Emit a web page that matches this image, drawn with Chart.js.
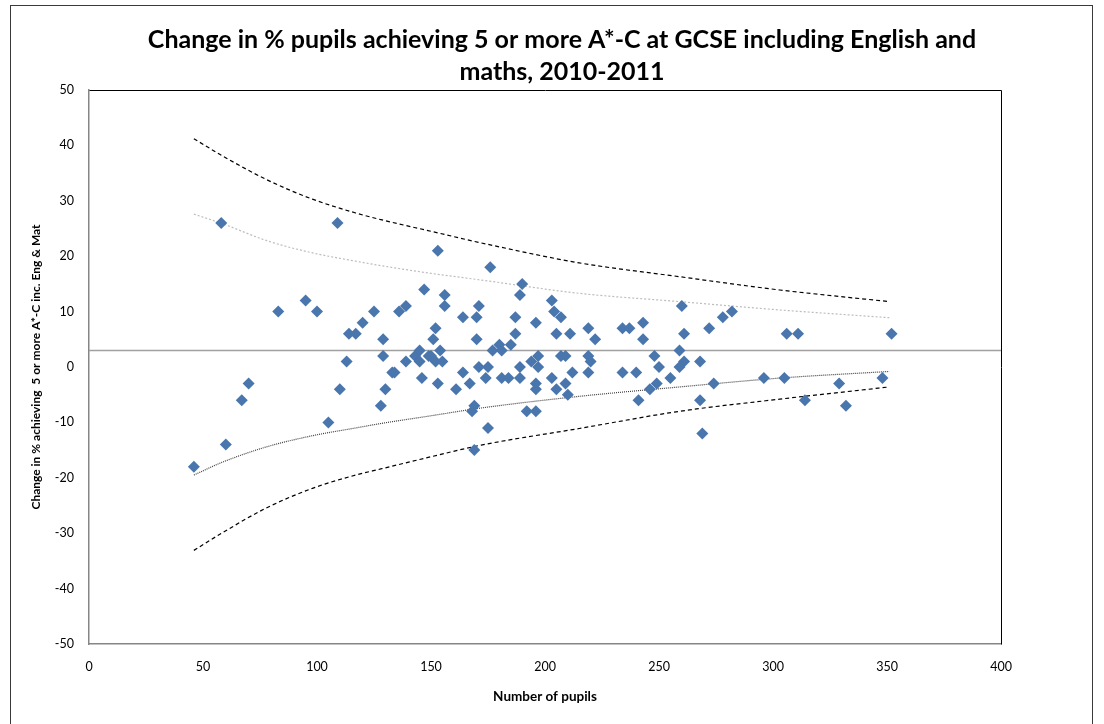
<!DOCTYPE html>
<html>
<head>
<meta charset="utf-8">
<script src="https://cdn.jsdelivr.net/npm/chart.js@4/dist/chart.umd.min.js"></script>
<style>
  html, body { margin: 0; padding: 0; background: #ffffff; }
  #wrap { position: relative; width: 1104px; height: 724px; }
  canvas { display: block; }
</style>
</head>
<body>
<div id="wrap"><canvas id="funnel" width="1104" height="724"></canvas></div>
<script>
// School cohort size and change in % achieving 5+ A*-C (inc. English & maths)
const pupils = [
  46,58,60,67,70,83,95,100,105,109,
  110,113,114,117,120,125,128,129,129,130,
  133,134,136,139,139,143,145,145,146,147,
  149,150,152,154,155,151,152,153,153,156,
  156,161,164,164,167,168,169,169,170,170,
  171,171,174,175,175,176,177,180,181,181,
  184,185,187,187,189,189,189,190,192,194,
  196,196,196,196,197,197,203,203,204,205,
  205,207,207,209,209,210,211,212,219,219,
  219,220,222,234,234,237,240,241,243,243,
  246,248,249,250,255,259,259,260,261,261,
  268,268,269,272,274,278,282,296,305,306,
  311,314,329,332,348,352
];
const change = [
  -18,26,-14,-6,-3,10,12,10,-10,26,
  -4,1,6,6,8,10,-7,5,2,-4,
  -1,-1,10,11,1,2,3,1,-2,14,
  2,2,1,3,1,5,7,21,-3,13,
  11,-4,9,-1,-3,-8,-7,-15,5,9,
  11,0,-2,0,-11,18,3,4,3,-2,
  -2,4,6,9,0,-2,13,15,-8,1,
  8,-3,-4,-8,2,0,12,-2,10,6,
  -4,9,2,2,-3,-5,6,-1,7,2,
  -1,1,5,7,-1,7,-1,-6,8,5,
  -4,2,-3,0,-2,3,0,11,6,1,
  1,-6,-12,7,-3,9,10,-2,-2,6,
  6,-6,-3,-7,-2,6
];

// Funnel control limits around the mean change
const limitPupils = [46, 59, 78, 98, 117, 128, 150, 172, 215, 259, 303, 351];
const upper998 = [41.2, 38.0, 33.8, 30.3, 27.8, 26.6, 24.5, 22.4, 18.8, 16.3, 13.9, 11.8];
const upper95  = [27.6, 25.8, 22.8, 20.6, 19.1, 18.3, 16.9, 15.7, 13.3, 11.8, 10.3, 8.9];
const lower95  = [-19.5, -17.1, -14.4, -12.4, -11.0, -10.2, -8.8, -7.4, -5.3, -3.6, -2.0, -0.8];
const lower998 = [-33.1, -29.8, -25.4, -21.9, -19.5, -18.4, -16.2, -14.1, -11.1, -8.0, -5.8, -3.6];
const meanChange = 3;
const meanSpan = [0, 400];

const xTicks = [0, 50, 100, 150, 200, 250, 300, 350, 400];
const yTicks = [-50, -40, -30, -20, -10, 0, 10, 20, 30, 40, 50];

const titleLines = [
  'Change in % pupils achieving 5 or more A*-C at GCSE including English and',
  'maths, 2010-2011'
];
const xTitle = 'Number of pupils';
const yTitle = 'Change in % achieving  5 or more A*-C inc. Eng & Mat';

const FONT = 'Lato, "Open Sans", "DejaVu Sans", sans-serif';

const toPoints = (xs, ys) => xs.map((x, i) => ({ x: x, y: ys[i] }));

function limitLine(values, color, dash, width) {
  return {
    type: 'line',
    data: toPoints(limitPupils, values),
    borderColor: color,
    borderWidth: width,
    borderDash: dash,
    pointRadius: 0,
    fill: false,
    tension: 0.4,
    cubicInterpolationMode: 'monotone',
    order: 2
  };
}

// Black frame on the top/right of the plot area and an outer chart border
const framePlugin = {
  id: 'frame',
  beforeDatasetsDraw(chart) {
    const { ctx, chartArea: a } = chart;
    ctx.save();
    ctx.strokeStyle = '#000000';
    ctx.lineWidth = 1;
    ctx.beginPath();
    ctx.moveTo(Math.round(a.left) + 0.5, Math.round(a.top) + 0.5);
    ctx.lineTo(Math.round(a.right) + 0.5, Math.round(a.top) + 0.5);
    ctx.lineTo(Math.round(a.right) + 0.5, Math.round(a.bottom) + 0.5);
    ctx.stroke();
    ctx.restore();
  },
  afterDraw(chart) {
    const { ctx } = chart;
    ctx.save();
    ctx.strokeStyle = '#3a3a3a';
    ctx.lineWidth = 1;
    ctx.strokeRect(10.5, 5.5, 1082, 740);
    ctx.restore();
  }
};

new Chart(document.getElementById('funnel'), {
  data: {
    datasets: [
      {
        type: 'scatter',
        label: 'Schools',
        data: toPoints(pupils, change),
        pointStyle: 'rectRot',
        pointRadius: 6,
        pointHoverRadius: 6,
        backgroundColor: '#4a76ae',
        borderColor: '#4a76ae',
        borderWidth: 0,
        order: 0
      },
      {
        type: 'line',
        label: 'Mean',
        data: meanSpan.map(x => ({ x: x, y: meanChange })),
        borderColor: '#a0a0a0',
        borderWidth: 1.5,
        pointRadius: 0,
        fill: false,
        order: 3
      },
      limitLine(upper998, '#000000', [4, 3], 1.2),
      limitLine(upper95, '#bdbdbd', [2, 2], 1.2),
      limitLine(lower95, '#404040', [1, 1], 1.2),
      limitLine(lower998, '#000000', [4, 3], 1.2)
    ]
  },
  options: {
    responsive: false,
    animation: false,
    devicePixelRatio: 1,
    layout: { padding: { left: 20, right: 0, top: 0, bottom: 0 } },
    plugins: {
      legend: { display: false },
      tooltip: { enabled: false },
      title: {
        display: true,
        text: titleLines,
        color: '#000000',
        font: { family: FONT, size: 25, weight: 'bold', lineHeight: 1.28 },
        padding: { top: 24, bottom: 2 }
      }
    },
    scales: {
      x: {
        type: 'linear',
        min: 0,
        max: 400,
        afterBuildTicks: s => { s.ticks = xTicks.map(v => ({ value: v })); },
        afterFit: s => { s.height = 80; },
        ticks: { color: '#000000', font: { family: FONT, size: 12.5 }, padding: 15 },
        grid: { display: false, drawTicks: false },
        border: { display: true, color: '#868686', width: 1.5 },
        title: {
          display: true,
          text: xTitle,
          color: '#000000',
          font: { family: FONT, size: 13.5, weight: 'bold' },
          padding: { top: 0, bottom: 19 }
        }
      },
      y: {
        type: 'linear',
        min: -50,
        max: 50,
        afterBuildTicks: s => { s.ticks = yTicks.map(v => ({ value: v })); },
        afterFit: s => { s.width = 69; },
        ticks: { color: '#000000', font: { family: FONT, size: 12.5 }, padding: 15 },
        grid: { display: false, drawTicks: false },
        border: { display: true, color: '#868686', width: 1.5 },
        title: {
          display: true,
          text: yTitle,
          color: '#000000',
          font: { family: FONT, size: 12, weight: 'bold' },
          padding: { top: 9, bottom: 0 }
        }
      },
      yRight: {
        type: 'linear',
        position: 'right',
        min: -50,
        max: 50,
        afterFit: s => { s.width = 103; },
        ticks: { display: false },
        grid: { display: false, drawTicks: false },
        border: { display: false }
      }
    }
  },
  plugins: [framePlugin]
});
</script>
</body>
</html>
